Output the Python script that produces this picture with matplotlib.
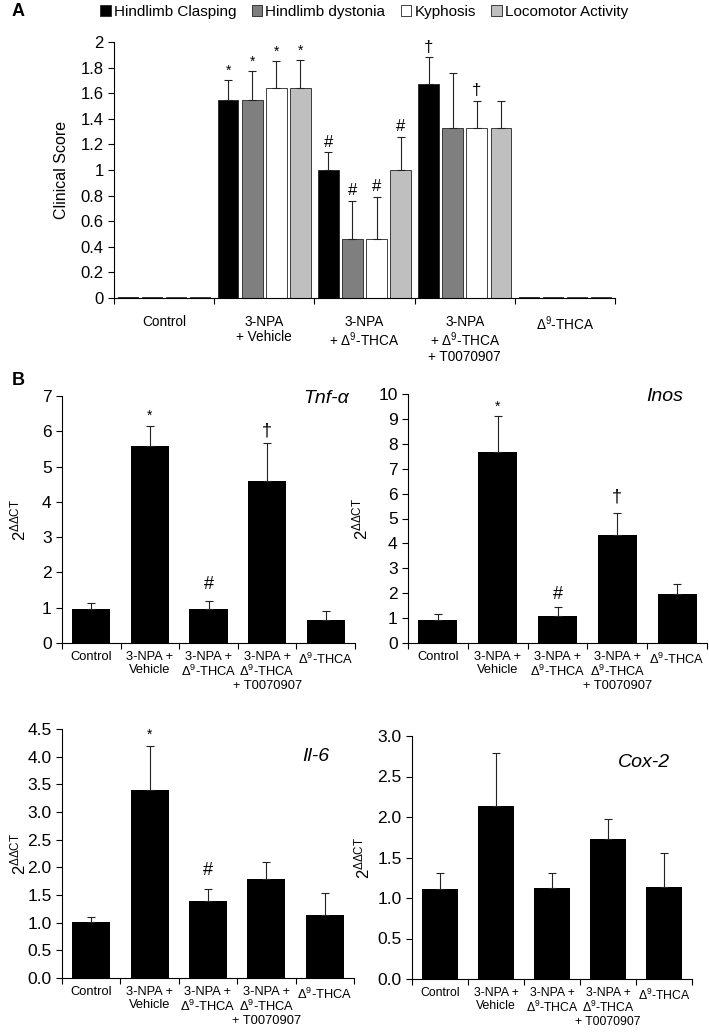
import numpy as np
import matplotlib
matplotlib.use('Agg')
import matplotlib.pyplot as plt
from matplotlib.patches import Patch

plt.rcParams['font.family'] = ['Liberation Sans', 'DejaVu Sans']
plt.rcParams['mathtext.fontset'] = 'custom'
plt.rcParams['mathtext.rm'] = 'Liberation Sans'
plt.rcParams['mathtext.it'] = 'Liberation Sans:italic'

D9 = r'$\mathrm{\Delta^9}$'

# Panel A data
groups_a = ['Control', '3-NPA\n+ Vehicle', '3-NPA\n+ ' + D9 + '-THCA',
            '3-NPA\n+ ' + D9 + '-THCA\n+ T0070907', D9 + '-THCA']
series_a = ['Hindlimb Clasping', 'Hindlimb dystonia', 'Kyphosis', 'Locomotor Activity']
colors_a = ['#000000', '#7f7f7f', '#ffffff', '#bfbfbf']
clasping = [0.01, 1.55, 1.00, 1.67, 0.01]
clasping_err = [0, 0.15, 0.14, 0.21, 0]
dystonia = [0.01, 1.55, 0.46, 1.33, 0.01]
dystonia_err = [0, 0.22, 0.30, 0.43, 0]
kyphosis = [0.01, 1.64, 0.46, 1.33, 0.01]
kyphosis_err = [0, 0.21, 0.33, 0.21, 0]
locomotor = [0.01, 1.64, 1.00, 1.33, 0.01]
locomotor_err = [0, 0.22, 0.26, 0.21, 0]
marks_a = [['', '*', '#', '\u2020', ''],
           ['', '*', '#', '', ''],
           ['', '*', '#', '\u2020', ''],
           ['', '*', '#', '', '']]

# Panel B data
groups_b = ['Control', '3-NPA +\nVehicle', '3-NPA +\n' + D9 + '-THCA',
            '3-NPA +\n' + D9 + '-THCA\n+ T0070907', D9 + '-THCA']
tnf = [0.95, 5.57, 0.97, 4.58, 0.65]
tnf_err = [0.17, 0.58, 0.23, 1.10, 0.25]
inos = [0.92, 7.68, 1.08, 4.35, 1.98]
inos_err = [0.26, 1.42, 0.37, 0.87, 0.37]
il6 = [1.01, 3.39, 1.40, 1.79, 1.14]
il6_err = [0.09, 0.81, 0.20, 0.31, 0.40]
cox2 = [1.11, 2.13, 1.12, 1.73, 1.14]
cox2_err = [0.20, 0.66, 0.19, 0.24, 0.42]

fig = plt.figure(figsize=(7.09, 10.35), dpi=100)

# ---- Panel A ----
ax = fig.add_axes([114/709, 1-298/1035, 501/709, 256/1035])
x = np.arange(len(groups_a))
vals = [clasping, dystonia, kyphosis, locomotor]
errs = [clasping_err, dystonia_err, kyphosis_err, locomotor_err]
slot = 0.24
for k in range(4):
    pos = x - 1.5*slot + k*slot
    ax.bar(pos, vals[k], width=0.205, color=colors_a[k], edgecolor='#222222', linewidth=0.6)
    e = np.array(errs[k])
    ax.errorbar(pos[e > 0], np.array(vals[k])[e > 0], yerr=[np.zeros((e > 0).sum()), e[e > 0]],
                fmt='none', ecolor='#222222', elinewidth=0.8, capsize=3, capthick=0.8)
    for i in range(len(groups_a)):
        if marks_a[k][i]:
            ax.text(pos[i], vals[k][i] + errs[k][i] + 0.02, marks_a[k][i], ha='center', va='bottom',
                    fontsize=12 if marks_a[k][i] != '*' else 10)
ax.set_xlim(-0.5, 4.5)
ax.set_ylim(0, 2)
ax.set_yticks(np.arange(0, 2.01, 0.2))
ax.set_yticklabels(['0', '0.2', '0.4', '0.6', '0.8', '1', '1.2', '1.4', '1.6', '1.8', '2'], fontsize=12)
ax.set_xticks(np.arange(-0.5, 4.6, 1))
ax.set_xticklabels([])
ax.set_xticks(x, minor=True)
ax.set_xticklabels(groups_a, minor=True, fontsize=9.8, linespacing=1.1)
ax.tick_params(axis='x', which='minor', length=0, pad=12)
ax.tick_params(axis='x', which='major', direction='out', length=4)
ax.tick_params(axis='y', direction='out', length=4)
ax.spines['top'].set_visible(False)
ax.spines['right'].set_visible(False)
ax.set_ylabel('Clinical Score', fontsize=11.5, labelpad=8)
handles = [Patch(facecolor=c, edgecolor='#222222', linewidth=0.6) for c in colors_a]
fig.legend(handles, series_a, loc='center', bbox_to_anchor=(364/709, 1-12/1035), ncol=4, frameon=False,
           fontsize=11, handlelength=0.7, handleheight=0.7, handletextpad=0.2, columnspacing=1.0)
fig.text(12/709, 1-11/1035, 'A', fontsize=13, fontweight='bold', ha='left', va='center')
fig.text(12/709, 1-380/1035, 'B', fontsize=13, fontweight='bold', ha='left', va='center')


def panel_b(rect, vals, errs, ymax, step, fmt, title, title_xy, marks, ylab_x, lab_fs=9.3):
    ax = fig.add_axes(rect)
    xb = np.arange(len(groups_b))
    ax.bar(xb, vals, width=0.65, color='black')
    ax.errorbar(xb, vals, yerr=[np.zeros(len(vals)), errs], fmt='none', ecolor='#222222',
                elinewidth=0.8, capsize=3, capthick=0.8)
    for i, m in marks:
        ax.text(xb[i], m[1], m[0], ha='center', va='center', fontsize=13 if m[0] != '*' else 10)
    ax.set_xlim(-0.5, 4.5)
    ax.set_ylim(0, ymax)
    ticks = np.arange(0, ymax + 1e-9, step)
    ax.set_yticks(ticks)
    ax.set_yticklabels([fmt.format(t) for t in ticks], fontsize=12.5)
    ax.set_xticks(np.arange(-0.5, 4.6, 1))
    ax.set_xticklabels([])
    ax.set_xticks(xb, minor=True)
    ax.set_xticklabels(groups_b, minor=True, fontsize=lab_fs, linespacing=1.05)
    ax.tick_params(axis='x', which='minor', length=0, pad=6)
    ax.tick_params(axis='x', which='major', direction='out', length=4)
    ax.tick_params(axis='y', direction='out', length=4)
    ax.spines['top'].set_visible(False)
    ax.spines['right'].set_visible(False)
    bb = ax.get_position()
    fig.text(ylab_x/709, bb.y0 + bb.height/2, r'$\mathrm{2^{\Delta\Delta CT}}$', rotation=90,
             fontsize=12, ha='center', va='center')
    ax.text(title_xy[0], title_xy[1], title, transform=ax.transAxes, fontsize=14,
            style='italic', ha='center', va='center')
    return ax


panel_b([62/709, 1-643/1035, 293/709, 247/1035], tnf, tnf_err, 7, 1, '{:.0f}', 'Tnf-\u03b1',
        (0.9, 0.99), [(1, ('*', 6.45)), (2, ('#', 1.65)), (3, ('\u2020', 6.0))], 18)
panel_b([408/709, 1-643/1035, 299/709, 249/1035], inos, inos_err, 10, 1, '{:.0f}', 'Inos',
        (0.86, 0.99), [(1, ('*', 9.5)), (2, ('#', 1.95)), (3, ('\u2020', 5.85))], 360)
panel_b([62/709, 1-978/1035, 292/709, 249/1035], il6, il6_err, 4.5, 0.5, '{:.1f}', 'Il-6',
        (0.87, 0.89), [(1, ('*', 4.4)), (2, ('#', 1.95))], 18)
panel_b([412/709, 1-979/1035, 280/709, 243/1035], cox2, cox2_err, 3.0, 0.5, '{:.1f}', 'Cox-2',
        (0.83, 0.89), [], 362, lab_fs=8.8)

fig.savefig('out.png', dpi=100)
